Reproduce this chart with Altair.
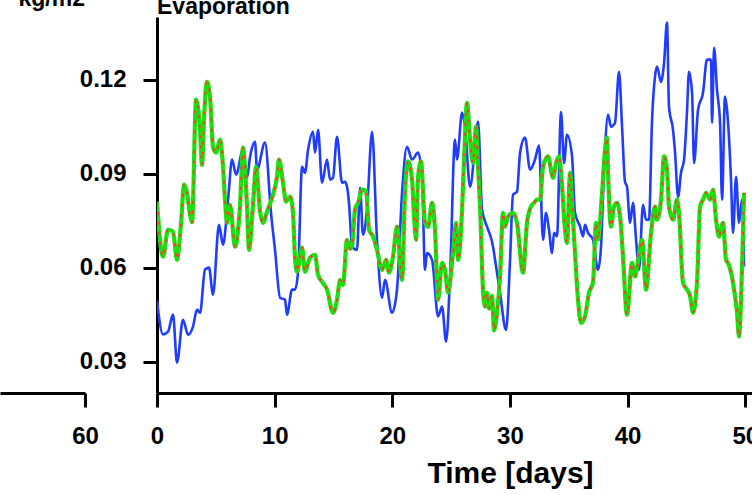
import altair as alt
import pandas as pd

# ---- data ----
blue_days = [0.00, 0.51, 0.94, 1.36, 1.70, 2.21, 2.64, 3.06, 3.40, 3.66,
             4.08, 4.42, 4.76, 5.27, 5.61, 6.04, 6.38, 6.72, 7.31, 7.65,
             7.91, 8.33, 8.50, 9.18, 9.69, 10.03, 10.46, 10.88, 11.05, 11.48,
             11.73, 11.99, 12.33, 12.58, 12.84, 13.26, 13.43, 13.69, 14.03, 14.45,
             14.71, 14.96, 15.30, 15.73, 15.98, 16.15, 16.32, 16.58, 17.00, 17.26,
             17.51, 17.85, 18.28, 18.70, 19.13, 19.38, 19.98, 20.40, 20.83, 21.25,
             21.68, 22.19, 22.53, 22.78, 22.95, 23.38, 23.89, 24.23, 24.57, 24.91,
             25.33, 25.50, 25.93, 26.18, 26.61, 27.29, 27.63, 28.05, 28.48, 28.90,
             29.16, 29.67, 30.01, 30.26, 30.60, 30.86, 31.28, 31.71, 32.13, 32.47,
             32.81, 33.07, 33.32, 33.58, 33.75, 34.00, 34.34, 34.60, 34.85, 35.28,
             35.53, 35.96, 36.21, 36.38, 36.64, 37.06, 37.49, 37.74, 37.99, 38.34,
             38.59, 38.93, 39.27, 39.53, 39.78, 39.95, 40.21, 40.46, 40.72, 40.97,
             41.31, 41.57, 41.82, 42.08, 42.33, 42.50, 42.84, 43.10, 43.35, 43.52,
             43.86, 44.03, 44.29, 44.54, 44.80, 45.05, 45.22, 45.48, 45.65, 45.99,
             46.41, 46.75, 47.09, 47.18, 47.35, 47.60, 47.86, 48.03, 48.28, 48.45,
             48.79, 48.96, 49.22, 49.47, 49.73, 49.90]
blue_vals = [0.0495, 0.0387, 0.0396, 0.0450, 0.0297, 0.0434, 0.0386, 0.0412, 0.0466, 0.0456,
             0.0594, 0.0600, 0.0514, 0.0737, 0.0673, 0.0817, 0.0945, 0.0897, 0.0977, 0.0887,
             0.0954, 0.1002, 0.0913, 0.0999, 0.0775, 0.0657, 0.0504, 0.0498, 0.0450, 0.0530,
             0.0530, 0.0587, 0.0922, 0.0903, 0.0976, 0.1034, 0.0967, 0.1040, 0.0871, 0.0945,
             0.0881, 0.0887, 0.1018, 0.0871, 0.0874, 0.0859, 0.0807, 0.0667, 0.0657, 0.0855,
             0.0705, 0.0785, 0.1034, 0.0689, 0.0504, 0.0561, 0.0456, 0.0530, 0.0839, 0.0986,
             0.0945, 0.0967, 0.0890, 0.0593, 0.0647, 0.0625, 0.0444, 0.0476, 0.0364, 0.0572,
             0.1009, 0.0945, 0.1095, 0.1050, 0.0858, 0.1066, 0.0785, 0.0731, 0.0683, 0.0584,
             0.0520, 0.0401, 0.0625, 0.0833, 0.0842, 0.0967, 0.1015, 0.0913, 0.0945, 0.0990,
             0.0689, 0.0775, 0.0721, 0.0647, 0.0711, 0.0700, 0.1097, 0.0934, 0.1024, 0.0955,
             0.0775, 0.0731, 0.0700, 0.0737, 0.0711, 0.0689, 0.0593, 0.0667, 0.0903, 0.1088,
             0.1050, 0.1062, 0.1225, 0.1050, 0.0874, 0.0858, 0.0743, 0.0807, 0.0689, 0.0593,
             0.0801, 0.0753, 0.0753, 0.1072, 0.1210, 0.1242, 0.1193, 0.1254, 0.1382, 0.1114,
             0.1040, 0.0970, 0.0826, 0.0903, 0.0945, 0.1097, 0.1225, 0.1158, 0.0934, 0.1104,
             0.1158, 0.1264, 0.1264, 0.1062, 0.1302, 0.1168, 0.1062, 0.0817, 0.1146, 0.1104,
             0.0881, 0.0711, 0.0890, 0.0743, 0.0817, 0.0604]

green_days = [0.00, 0.51, 0.94, 1.36, 1.70, 2.04, 2.30, 2.55, 2.81, 2.98,
              3.32, 3.66, 3.83, 4.00, 4.25, 4.51, 4.76, 5.02, 5.36, 5.61,
              5.78, 5.95, 6.21, 6.63, 7.06, 7.31, 7.65, 7.82, 8.16, 8.42,
              8.76, 9.01, 9.35, 9.86, 10.20, 10.37, 10.71, 10.97, 11.31, 11.56,
              11.73, 11.90, 12.33, 12.58, 13.01, 13.43, 13.69, 14.03, 14.45, 14.96,
              15.30, 15.56, 15.81, 16.15, 16.41, 16.58, 16.83, 17.09, 17.43, 17.77,
              18.02, 18.36, 18.70, 19.13, 19.47, 19.72, 20.06, 20.40, 20.83, 21.08,
              21.34, 21.68, 21.85, 22.02, 22.19, 22.44, 22.78, 23.04, 23.38, 23.63,
              23.89, 24.23, 24.48, 24.74, 25.16, 25.42, 25.59, 25.93, 26.10, 26.35,
              26.61, 26.86, 27.12, 27.29, 27.46, 27.71, 27.88, 28.05, 28.22, 28.48,
              28.65, 28.90, 29.16, 29.41, 29.58, 29.84, 30.26, 30.60, 31.11, 31.45,
              31.79, 32.05, 32.30, 32.56, 32.81, 33.24, 33.66, 33.92, 34.17, 34.43,
              34.68, 34.85, 35.11, 35.36, 35.53, 35.79, 36.04, 36.38, 36.72, 37.06,
              37.32, 37.49, 37.83, 38.08, 38.25, 38.34, 38.59, 38.85, 39.10, 39.44,
              39.61, 39.95, 40.38, 40.63, 40.80, 41.23, 41.57, 41.99, 42.33, 42.50,
              42.84, 43.10, 43.35, 43.52, 43.86, 44.20, 44.37, 44.71, 45.05, 45.31,
              45.56, 45.90, 46.16, 46.41, 46.67, 47.01, 47.26, 47.52, 47.77, 48.11,
              48.37, 48.54, 48.96, 49.30, 49.47, 49.73, 49.90]
green_vals = [0.0810, 0.0635, 0.0721, 0.0715, 0.0625, 0.0740, 0.0865, 0.0839, 0.0769, 0.0745,
              0.1136, 0.1040, 0.0928, 0.1078, 0.1193, 0.1145, 0.0986, 0.0967, 0.1008, 0.0922,
              0.0817, 0.0743, 0.0800, 0.0667, 0.0800, 0.0983, 0.0795, 0.0657, 0.0800, 0.0922,
              0.0779, 0.0743, 0.0779, 0.0833, 0.0890, 0.0945, 0.0871, 0.0811, 0.0827, 0.0775,
              0.0632, 0.0587, 0.0664, 0.0587, 0.0632, 0.0641, 0.0577, 0.0555, 0.0530, 0.0456,
              0.0497, 0.0560, 0.0545, 0.0689, 0.0660, 0.0670, 0.0785, 0.0807, 0.0849, 0.0845,
              0.0721, 0.0700, 0.0657, 0.0593, 0.0625, 0.0584, 0.0635, 0.0731, 0.0561, 0.0839,
              0.0939, 0.0881, 0.0763, 0.0689, 0.0890, 0.0939, 0.0743, 0.0730, 0.0807, 0.0720,
              0.0497, 0.0615, 0.0593, 0.0520, 0.0647, 0.0743, 0.0625, 0.0785, 0.0945, 0.1126,
              0.1008, 0.0934, 0.1050, 0.0922, 0.0795, 0.0530, 0.0476, 0.0520, 0.0470, 0.0510,
              0.0400, 0.0456, 0.0572, 0.0775, 0.0731, 0.0763, 0.0775, 0.0743, 0.0584, 0.0743,
              0.0795, 0.0807, 0.0817, 0.0817, 0.0922, 0.0955, 0.0887, 0.0934, 0.0955, 0.0858,
              0.0721, 0.0679, 0.0903, 0.0753, 0.0647, 0.0497, 0.0424, 0.0444, 0.0520, 0.0552,
              0.0743, 0.0690, 0.0839, 0.0977, 0.1015, 0.0903, 0.0731, 0.0795, 0.0807, 0.0731,
              0.0635, 0.0450, 0.0615, 0.0572, 0.0600, 0.0689, 0.0530, 0.0711, 0.0795, 0.0753,
              0.0817, 0.0955, 0.0913, 0.0795, 0.0753, 0.0817, 0.0775, 0.0552, 0.0530, 0.0510,
              0.0456, 0.0552, 0.0795, 0.0817, 0.0839, 0.0817, 0.0849, 0.0753, 0.0699, 0.0743,
              0.0625, 0.0615, 0.0552, 0.0456, 0.0380, 0.0604, 0.0839]

# the red dashed series lies on top of the green one
red_days = list(green_days)
red_vals = list(green_vals)

x_ticks = [0, 10, 20, 30, 40, 50]
y_ticks = [0.03, 0.06, 0.09, 0.12]
left_ticks = [60]

blue_df = pd.DataFrame({"t": blue_days, "v": blue_vals})
green_df = pd.DataFrame({"t": green_days, "v": green_vals})
red_df = pd.DataFrame({"t": red_days, "v": red_vals})

FONT = "Liberation Sans"
axis_style = dict(
    domainColor="black", domainWidth=3, tickColor="black", tickWidth=3,
    tickSize=14, labelFont=FONT, labelFontSize=24, labelFontWeight="bold",
    labelColor="black", grid=False, labelFlush=False,
)

xs = alt.Scale(domain=[0, 51], nice=False, zero=False)
ys = alt.Scale(domain=[0.02, 0.14], nice=False, zero=False)

x_axis = alt.Axis(
    values=x_ticks, format="d", labelPadding=17, title="Time [days]",
    titleFont=FONT, titleFontSize=30, titleFontWeight="bold", titleColor="black",
    titleX=353, titleY=89, titleAlign="center", titleBaseline="alphabetic",
    **axis_style,
)
y_axis = alt.Axis(
    values=y_ticks, format=".2f", labelPadding=17, title=None,
    **axis_style,
)

X = alt.X("t:Q", scale=xs, axis=x_axis)
Y = alt.Y("v:Q", scale=ys, axis=y_axis)

blue_line = alt.Chart(blue_df).mark_line(
    color="#1f3cff", strokeWidth=2.6, interpolate="monotone", clip=True
).encode(x=X, y=Y)
green_line = alt.Chart(green_df).mark_line(
    color="#1ede10", strokeWidth=4.2, interpolate="monotone", clip=True
).encode(x=X, y=Y)
red_line = alt.Chart(red_df).mark_line(
    color="#ff3a2a", strokeWidth=2, strokeDash=[3, 7], interpolate="monotone", clip=True
).encode(x=X, y=Y)

main = alt.layer(blue_line, green_line, red_line).properties(
    width=600, height=376,
    title=alt.TitleParams(
        "Evaporation", anchor="start", frame="group", font=FONT, fontSize=23,
        fontWeight="bold", color="black", baseline="alphabetic", offset=-20,
    ),
)

# unit label sits at the top-left corner, above the neighbouring panel
left = alt.Chart(blue_df).mark_point(opacity=0, clip=True).encode(
    x=alt.X("t:Q", scale=alt.Scale(domain=[52.775, 60], nice=False, zero=False),
            axis=alt.Axis(values=left_ticks, format="d", labelPadding=17, title=None,
                          **axis_style)),
    y=alt.Y("v:Q", scale=ys, axis=None),
).properties(
    width=85, height=376,
    title=alt.TitleParams(
        "kg/m2", anchor="end", frame="group", font=FONT, fontSize=23,
        fontWeight="bold", color="black", baseline="alphabetic", offset=-12,
    ),
)

chart = alt.hconcat(left, main, spacing=72, bounds="flush").properties(
    autosize=alt.AutoSizeParams(type="none"),
    padding={"left": 0, "top": 17, "right": 752, "bottom": 478},
).configure(font=FONT, view=alt.ViewConfig(stroke=None))

chart.save("out.html", embed_options={"renderer": "svg", "actions": False})
